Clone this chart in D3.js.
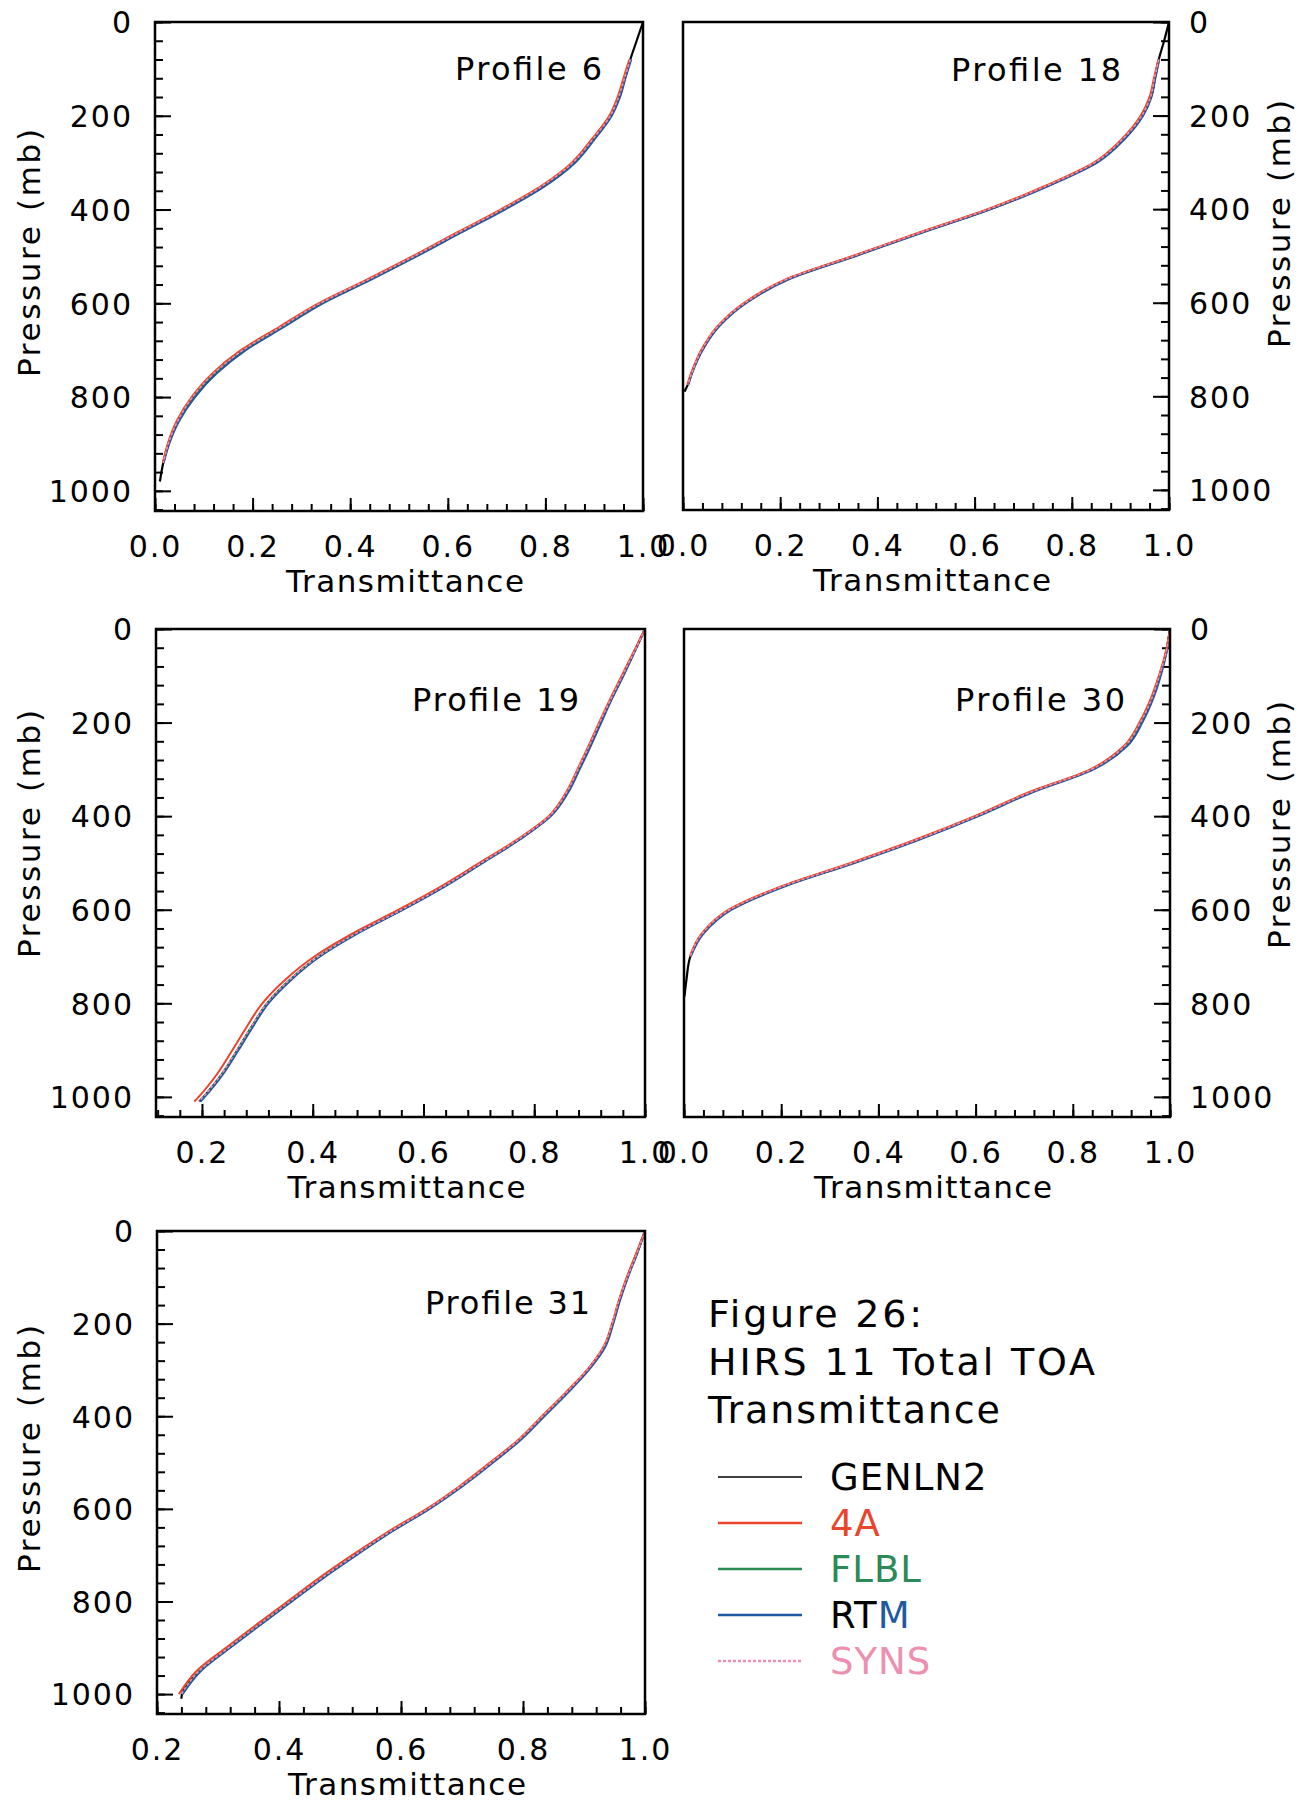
<!DOCTYPE html>
<html>
<head>
<meta charset="utf-8">
<script src="https://cdn.jsdelivr.net/npm/d3@7"></script>
<style>
  html, body { margin: 0; padding: 0; background: #fff; }
  svg { display: block; }
  text { font-family: "DejaVu Sans", "Liberation Sans", sans-serif; }
</style>
</head>
<body>
<svg id="chart" width="1310" height="1804"></svg>
<script>
// ---- data (transmittance vs pressure, one set per profile) ----
const models = ['GENLN2', '4A', 'FLBL', 'RTM', 'SYNS'];

const pressureTicks = [0, 200, 400, 600, 800, 1000];
const transTicks = [0.0, 0.2, 0.4, 0.6, 0.8, 1.0];
const transTicksShort = [0.2, 0.4, 0.6, 0.8, 1.0];

// Profile 6
const pressure6 = [0, 40, 80, 120, 160, 200, 250, 300, 350, 400, 450, 500, 550, 600, 650, 700, 750, 800, 850, 900, 940, 980];
const genln2_6 = [1.000, 0.987, 0.974, 0.963, 0.951, 0.934, 0.898, 0.858, 0.795, 0.713, 0.622, 0.532, 0.438, 0.340, 0.261, 0.182, 0.122, 0.079, 0.048, 0.028, 0.017, 0.010];
const a4_6 =     [null, null, 0.972, 0.960, 0.948, 0.931, 0.895, 0.854, 0.791, 0.708, 0.617, 0.527, 0.433, 0.335, 0.255, 0.176, 0.117, 0.075, 0.045, 0.026, 0.016, null];
const flbl_6 =   [null, null, 0.974, 0.962, 0.950, 0.933, 0.897, 0.857, 0.794, 0.712, 0.621, 0.531, 0.437, 0.339, 0.260, 0.181, 0.121, 0.078, 0.047, 0.027, 0.017, null];
const rtm_6 =    [null, null, 0.976, 0.964, 0.953, 0.936, 0.901, 0.861, 0.799, 0.717, 0.626, 0.536, 0.442, 0.344, 0.265, 0.186, 0.126, 0.082, 0.050, 0.029, 0.018, null];
const syns_6 =   [null, null, 0.974, 0.962, 0.950, 0.933, 0.897, 0.856, 0.793, 0.711, 0.620, 0.530, 0.436, 0.338, 0.259, 0.180, 0.120, 0.077, 0.047, 0.027, 0.017, null];

// Profile 18
const pressure18 = [0, 40, 80, 120, 160, 200, 250, 300, 350, 400, 450, 500, 550, 600, 650, 700, 750, 775, 790];
const genln2_18 = [1.000, 0.990, 0.979, 0.971, 0.963, 0.945, 0.907, 0.850, 0.750, 0.631, 0.490, 0.353, 0.215, 0.129, 0.073, 0.040, 0.018, 0.010, 0.003];
const a4_18 =     [null, null, 0.978, 0.969, 0.960, 0.942, 0.903, 0.846, 0.746, 0.627, 0.486, 0.349, 0.211, 0.126, 0.071, 0.038, 0.017, 0.009, null];
const flbl_18 =   [null, null, 0.979, 0.971, 0.962, 0.944, 0.906, 0.849, 0.749, 0.630, 0.489, 0.352, 0.214, 0.128, 0.073, 0.040, 0.018, 0.010, null];
const rtm_18 =    [null, null, 0.980, 0.972, 0.964, 0.947, 0.909, 0.853, 0.753, 0.634, 0.493, 0.356, 0.218, 0.131, 0.075, 0.041, 0.019, 0.011, null];
const syns_18 =   [null, null, 0.979, 0.970, 0.962, 0.944, 0.905, 0.848, 0.748, 0.629, 0.488, 0.351, 0.213, 0.128, 0.072, 0.039, 0.018, 0.010, null];

// Profile 19
const pressure19 = [0, 50, 100, 150, 200, 250, 300, 350, 400, 450, 500, 550, 600, 650, 700, 750, 800, 850, 900, 950, 1000, 1010];
const genln2_19 = [1.000, 0.980, 0.960, 0.939, 0.919, 0.900, 0.880, 0.859, 0.828, 0.772, 0.705, 0.637, 0.561, 0.480, 0.411, 0.359, 0.318, 0.290, 0.264, 0.237, 0.203, 0.195];
const a4_19 =     [1.000, 0.979, 0.958, 0.937, 0.917, 0.898, 0.878, 0.857, 0.826, 0.769, 0.701, 0.632, 0.555, 0.473, 0.403, 0.350, 0.309, 0.281, 0.255, 0.228, 0.194, 0.186];
const flbl_19 =   [1.000, 0.980, 0.960, 0.939, 0.919, 0.900, 0.880, 0.859, 0.828, 0.772, 0.705, 0.637, 0.561, 0.480, 0.411, 0.359, 0.318, 0.290, 0.264, 0.237, 0.204, 0.196];
const rtm_19 =    [1.000, 0.981, 0.961, 0.940, 0.921, 0.902, 0.882, 0.861, 0.830, 0.774, 0.707, 0.639, 0.563, 0.482, 0.413, 0.361, 0.320, 0.292, 0.266, 0.239, 0.205, 0.197];
const syns_19 =   [1.000, 0.980, 0.959, 0.938, 0.918, 0.899, 0.879, 0.858, 0.827, 0.771, 0.704, 0.636, 0.560, 0.479, 0.410, 0.358, 0.317, 0.289, 0.263, 0.236, 0.202, 0.194];

// Profile 30
const pressure30 = [0, 50, 100, 150, 200, 250, 300, 350, 400, 450, 500, 550, 600, 650, 700, 750, 785];
const genln2_30 = [1.000, 0.992, 0.979, 0.963, 0.940, 0.908, 0.839, 0.711, 0.602, 0.481, 0.347, 0.204, 0.095, 0.039, 0.013, 0.005, 0.001];
const a4_30 =     [1.000, 0.991, 0.977, 0.960, 0.937, 0.905, 0.836, 0.707, 0.598, 0.477, 0.343, 0.200, 0.092, 0.037, 0.012, null, null];
const flbl_30 =   [1.000, 0.992, 0.979, 0.963, 0.940, 0.908, 0.839, 0.711, 0.602, 0.481, 0.347, 0.204, 0.095, 0.039, 0.013, null, null];
const rtm_30 =    [1.000, 0.993, 0.981, 0.965, 0.943, 0.912, 0.843, 0.715, 0.606, 0.485, 0.351, 0.208, 0.098, 0.041, 0.014, null, null];
const syns_30 =   [1.000, 0.992, 0.978, 0.962, 0.939, 0.907, 0.838, 0.710, 0.601, 0.480, 0.346, 0.203, 0.094, 0.038, 0.013, null, null];

// Profile 31
const pressure31 = [0, 50, 100, 150, 200, 250, 300, 350, 400, 450, 500, 550, 600, 650, 700, 750, 800, 850, 900, 950, 1000, 1010];
const genln2_31 = [1.000, 0.986, 0.971, 0.958, 0.947, 0.933, 0.906, 0.871, 0.833, 0.795, 0.749, 0.700, 0.645, 0.582, 0.525, 0.470, 0.419, 0.368, 0.318, 0.270, 0.241, 0.240];
const a4_31 =     [1.000, 0.985, 0.970, 0.957, 0.946, 0.932, 0.905, 0.869, 0.831, 0.793, 0.746, 0.697, 0.642, 0.578, 0.520, 0.465, 0.414, 0.363, 0.313, 0.265, 0.236, null];
const flbl_31 =   [1.000, 0.986, 0.971, 0.958, 0.947, 0.933, 0.906, 0.871, 0.833, 0.795, 0.749, 0.700, 0.645, 0.582, 0.525, 0.470, 0.419, 0.368, 0.318, 0.270, 0.241, null];
const rtm_31 =    [1.000, 0.987, 0.972, 0.959, 0.948, 0.935, 0.908, 0.873, 0.835, 0.797, 0.751, 0.702, 0.647, 0.584, 0.527, 0.472, 0.421, 0.370, 0.320, 0.272, 0.242, null];
const syns_31 =   [1.000, 0.986, 0.971, 0.957, 0.946, 0.932, 0.905, 0.870, 0.832, 0.794, 0.748, 0.699, 0.644, 0.581, 0.524, 0.469, 0.418, 0.367, 0.317, 0.269, 0.240, null];

// ---- styles / layout ----
const modelStyle = {
  'GENLN2': { color: '#000000', width: 2.2 },
  '4A':     { color: '#e8452c', width: 2 },
  'FLBL':   { color: '#2b8a55', width: 2 },
  'RTM':    { color: '#1f5aa0', width: 2 },
  'SYNS':   { color: '#ec8fb0', width: 1.6, dash: '3,2' }
};
const drawOrder = ['GENLN2', 'FLBL', 'RTM', '4A', 'SYNS'];
const pressureDomain = [0, 1043];

const panels = [
  { name: 'Profile 6',  p: pressure6,  series: [genln2_6, a4_6, flbl_6, rtm_6, syns_6],
    xDomain: [0, 1], xTicks: transTicks, box: { l: 155, r: 643, t: 22, b: 511 }, side: 'left',
    label: { x: 300, y: 58, len: 147 }, yTitleY: 231 },
  { name: 'Profile 18', p: pressure18, series: [genln2_18, a4_18, flbl_18, rtm_18, syns_18],
    xDomain: [0, 1], xTicks: transTicks, box: { l: 683, r: 1169, t: 22, b: 510 }, side: 'right',
    label: { x: 268, y: 59, len: 170 }, yTitleY: 202 },
  { name: 'Profile 19', p: pressure19, series: [genln2_19, a4_19, flbl_19, rtm_19, syns_19],
    xDomain: [0.117, 1], xTicks: transTicksShort, box: { l: 156, r: 645, t: 629, b: 1117 }, side: 'left',
    label: { x: 256, y: 82, len: 167 }, yTitleY: 205 },
  { name: 'Profile 30', p: pressure30, series: [genln2_30, a4_30, flbl_30, rtm_30, syns_30],
    xDomain: [0, 1], xTicks: transTicks, box: { l: 684, r: 1170, t: 629, b: 1117 }, side: 'right',
    label: { x: 271, y: 82, len: 170 }, yTitleY: 196 },
  { name: 'Profile 31', p: pressure31, series: [genln2_31, a4_31, flbl_31, rtm_31, syns_31],
    xDomain: [0.2, 1], xTicks: transTicksShort, box: { l: 157, r: 645, t: 1231, b: 1714 }, side: 'left',
    label: { x: 268, y: 83, len: 165 }, yTitleY: 218 }
];

const svg = d3.select('#chart');
const fmtX = d3.format('.1f');

panels.forEach((panel, pi) => {
  const w = panel.box.r - panel.box.l;
  const h = panel.box.b - panel.box.t;
  const g = svg.append('g').attr('transform', `translate(${panel.box.l},${panel.box.t})`);

  const x = d3.scaleLinear().domain(panel.xDomain).range([0, w]);
  const y = d3.scaleLinear().domain(pressureDomain).range([0, h]);

  // minor ticks every 0.04 and 40 mb
  const xMinor = d3.range(0, 26).map(i => +(i * 0.04).toFixed(2))
    .filter(v => v >= panel.xDomain[0] - 1e-9 && v <= panel.xDomain[1] + 1e-9);
  const yMinor = d3.range(0, 27).map(i => i * 40).filter(v => v <= pressureDomain[1]);

  const styleAxis = sel => {
    sel.select('.domain').remove();
    sel.selectAll('line').attr('stroke', '#000').attr('stroke-width', 2);
    sel.attr('font-family', null).attr('font-size', null);
  };

  // x axis
  g.append('g').attr('transform', `translate(0,${h})`)
    .call(d3.axisBottom(x).tickValues(xMinor).tickSizeInner(-7).tickSizeOuter(0).tickFormat(''))
    .call(styleAxis);
  g.append('g').attr('transform', `translate(0,${h})`)
    .call(d3.axisBottom(x).tickValues(panel.xTicks).tickSizeInner(-13).tickSizeOuter(0).tickFormat(fmtX))
    .call(styleAxis)
    .selectAll('text')
      .attr('y', 45.5).attr('dy', null)
      .attr('fill', '#000')
      .attr('font-size', 30).attr('letter-spacing', 2);

  // y axis (left or right)
  const axisFn = panel.side === 'left' ? d3.axisLeft : d3.axisRight;
  const yShift = panel.side === 'left' ? 'translate(0,0)' : `translate(${w},0)`;
  g.append('g').attr('transform', yShift)
    .call(axisFn(y).tickValues(yMinor).tickSizeInner(-8).tickSizeOuter(0).tickFormat(''))
    .call(styleAxis);
  g.append('g').attr('transform', yShift)
    .call(axisFn(y).tickValues(pressureTicks).tickSizeInner(-16).tickSizeOuter(0)
      .tickPadding(panel.side === 'left' ? 22 : 20).tickFormat(d3.format('d')))
    .call(styleAxis)
    .selectAll('text')
      .attr('dy', '0.36em')
      .attr('fill', '#000')
      .attr('font-size', 30).attr('letter-spacing', 2);

  // curves
  const clipId = `clip-${pi}`;
  g.append('clipPath').attr('id', clipId)
    .append('rect').attr('width', w).attr('height', h);
  const line = d3.line()
    .defined(d => d.t != null)
    .x(d => x(d.t))
    .y(d => y(d.p))
    .curve(d3.curveMonotoneY);

  drawOrder.forEach(m => {
    const vals = panel.series[models.indexOf(m)];
    const pts = panel.p.map((p, i) => ({ p: p, t: vals[i] }));
    const st = modelStyle[m];
    g.append('path')
      .datum(pts)
      .attr('clip-path', `url(#${clipId})`)
      .attr('fill', 'none')
      .attr('stroke', st.color)
      .attr('stroke-width', st.width)
      .attr('stroke-dasharray', st.dash || null)
      .attr('d', line);
  });

  // frame
  g.append('rect')
    .attr('width', w).attr('height', h)
    .attr('fill', 'none').attr('stroke', '#000').attr('stroke-width', 2.5);

  // profile label
  g.append('text')
    .attr('x', panel.label.x).attr('y', panel.label.y)
    .attr('font-size', 32).attr('fill', '#000')
    .attr('textLength', panel.label.len).attr('lengthAdjust', 'spacing')
    .text(panel.name);

  // axis titles
  g.append('text')
    .attr('x', w / 2 + 6).attr('y', h + 81)
    .attr('text-anchor', 'middle')
    .attr('font-size', 31).attr('fill', '#000')
    .attr('textLength', 238).attr('lengthAdjust', 'spacing')
    .text('Transmittance');

  const yTitleX = panel.side === 'left' ? 40 - panel.box.l : 1290 - panel.box.l;
  g.append('text')
    .attr('transform', `translate(${yTitleX},${panel.yTitleY}) rotate(-90)`)
    .attr('text-anchor', 'middle')
    .attr('font-size', 31).attr('fill', '#000')
    .attr('textLength', 248).attr('lengthAdjust', 'spacing')
    .text('Pressure (mb)');
});

// ---- figure caption ----
const caption = [
  { text: 'Figure 26:', len: 214 },
  { text: 'HIRS 11 Total TOA', len: 387 },
  { text: 'Transmittance', len: 292 }
];
caption.forEach((c, i) => {
  svg.append('text')
    .attr('x', 708).attr('y', 1327 + i * 48)
    .attr('font-size', 38).attr('fill', '#000')
    .attr('textLength', c.len).attr('lengthAdjust', 'spacing')
    .text(c.text);
});

// ---- legend ----
const legend = svg.append('g');
models.forEach((m, i) => {
  const st = modelStyle[m];
  const ly = 1477 + i * 46;
  legend.append('line')
    .attr('x1', 718).attr('x2', 802).attr('y1', ly).attr('y2', ly)
    .attr('stroke', st.color)
    .attr('stroke-width', m === 'GENLN2' ? 1.5 : 2.5)
    .attr('stroke-dasharray', st.dash || null);
  const t = legend.append('text')
    .attr('x', 830).attr('y', ly + 13)
    .attr('font-size', 37).attr('letter-spacing', 1);
  if (m === 'RTM') {
    t.append('tspan').attr('fill', '#000').text('RT');
    t.append('tspan').attr('fill', st.color).text('M');
  } else {
    t.attr('fill', st.color).text(m);
  }
});
</script>
</body>
</html>
